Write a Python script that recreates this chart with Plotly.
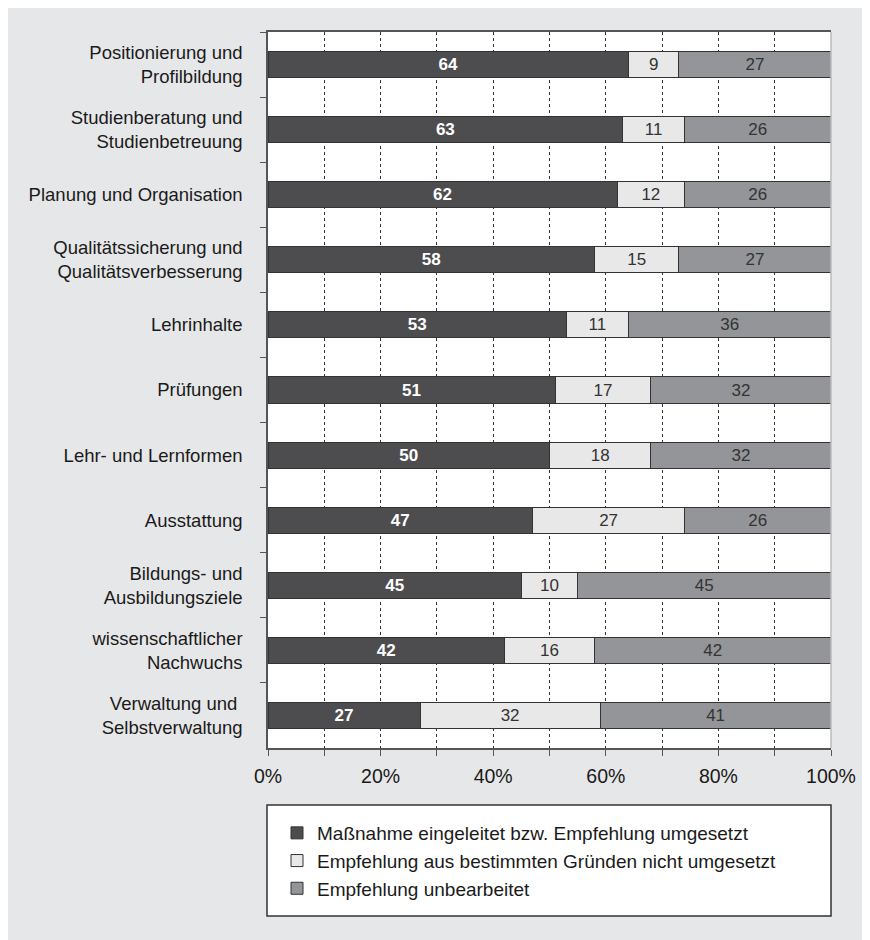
import plotly.graph_objects as go

categories = [
    "Positionierung und<br>Profilbildung",
    "Studienberatung und<br>Studienbetreuung",
    "Planung und Organisation",
    "Qualitätssicherung und<br>Qualitätsverbesserung",
    "Lehrinhalte",
    "Prüfungen",
    "Lehr- und Lernformen",
    "Ausstattung",
    "Bildungs- und<br>Ausbildungsziele",
    "wissenschaftlicher<br>Nachwuchs",
    "Verwaltung und\u00a0<br>Selbstverwaltung",
]
umgesetzt = [64, 63, 62, 58, 53, 51, 50, 47, 45, 42, 27]
nicht_umgesetzt = [9, 11, 12, 15, 11, 17, 18, 27, 10, 16, 32]
unbearbeitet = [27, 26, 26, 27, 36, 32, 32, 26, 45, 42, 41]

series_names = [
    "Maßnahme eingeleitet bzw. Empfehlung umgesetzt",
    "Empfehlung aus bestimmten Gründen nicht umgesetzt",
    "Empfehlung unbearbeitet",
]
colors = ["#4d4d4f", "#e8e8e9", "#939598"]
text_colors = ["#ffffff", "#333333", "#333333"]
text_weights = ["bold", "normal", "normal"]

xticks = list(range(0, 101, 10))
xticklabels = [f"{v}%" if v % 20 == 0 else "" for v in xticks]

FONT = "Liberation Sans, Arial, sans-serif"

fig = go.Figure()
for name, vals, c, tc, tw in zip(series_names, [umgesetzt, nicht_umgesetzt, unbearbeitet],
                                 colors, text_colors, text_weights):
    fig.add_trace(go.Bar(
        y=categories, x=vals, name=name, orientation="h",
        marker=dict(color=c, line=dict(color="#333333", width=1)),
        text=[str(v) for v in vals], textposition="inside",
        insidetextanchor="middle", textangle=0,
        textfont=dict(color=tc, size=17, family=FONT, weight=tw),
        hoverinfo="skip",
    ))

# page has an 8px body margin; figure coordinates are screen minus 8
OFF = 8
W, H = 862, 932
L, T = 268 - OFF, 32 - OFF
R = W - (831 - OFF)
B = H - (748 - OFF)
pw = W - L - R
ph = H - T - B

def px_x(p):
    return (p - OFF - L) / pw

def px_y(p):
    return (H - B - (p - OFF)) / ph

fig.update_layout(
    width=W, height=H,
    barmode="stack", bargap=0.6,
    paper_bgcolor="#e6e7e8", plot_bgcolor="#ffffff",
    margin=dict(l=L, r=R, t=T, b=B, pad=0),
    font=dict(family=FONT, size=18.5, color="#1a1a1a"),
    xaxis=dict(
        range=[0, 100], tickvals=xticks, ticktext=xticklabels,
        showgrid=True, gridcolor="#333333", griddash="dot", gridwidth=1,
        ticks="outside", ticklen=6, tickcolor="#555555",
        showline=True, linecolor="#555555", linewidth=1.5, mirror=True,
        zeroline=False, ticklabelstandoff=4,
        tickfont=dict(size=19.5),
    ),
    yaxis=dict(
        type="category", autorange="reversed", tickson="boundaries",
        ticks="outside", ticklen=6, tickcolor="#555555",
        showline=True, linecolor="#555555", linewidth=1.5,
        showgrid=False, ticklabelstandoff=20,
        tickfont=dict(size=18.5),
    ),
    legend=dict(
        x=px_x(277), y=px_y(814), xanchor="left", yanchor="top",
        bgcolor="rgba(0,0,0,0)", borderwidth=0,
        font=dict(size=19, color="#1a1a1a"), traceorder="normal",
    ),
    showlegend=True,
    shapes=[
        dict(type="rect", xref="paper", yref="paper",
             x0=px_x(267), x1=px_x(831), y0=px_y(805), y1=px_y(916),
             fillcolor="#ffffff", line=dict(color="#333333", width=1.5),
             layer="below"),
        dict(type="line", xref="paper", yref="paper",
             x0=1, x1=1, y0=0, y1=1,
             line=dict(color="#bbbbbb", width=1.5)),
    ],
)

fig.write_html("out.html")
